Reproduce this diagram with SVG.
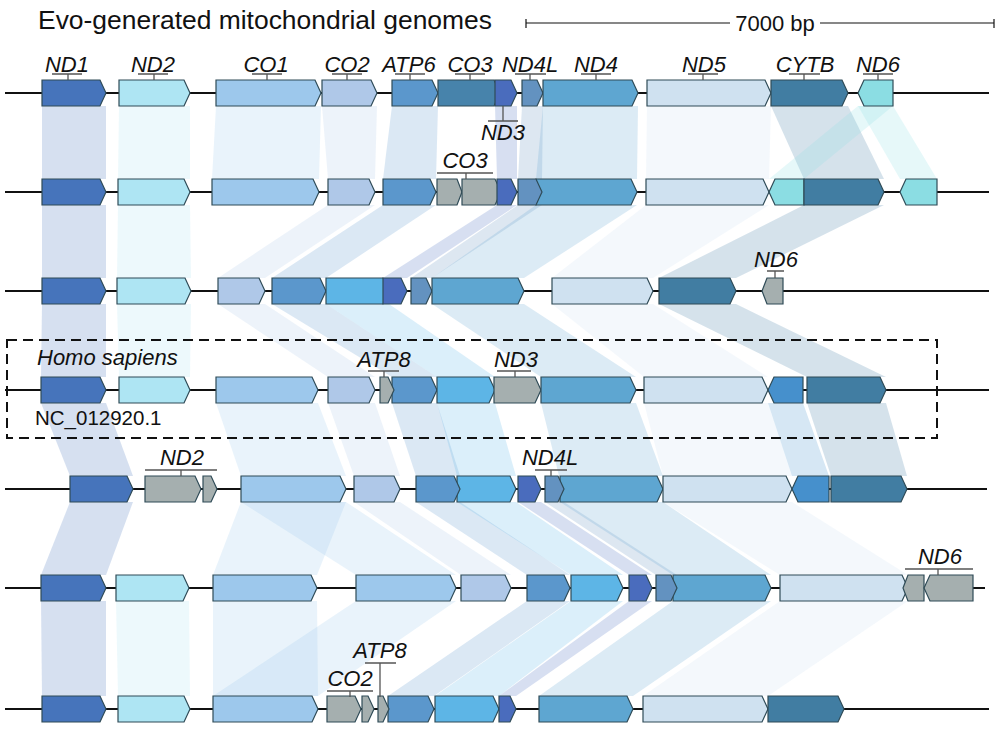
<svg xmlns="http://www.w3.org/2000/svg" width="1000" height="747" viewBox="0 0 1000 747">
<style>
text{font-family:"Liberation Sans",Arial,sans-serif;fill:#111}
.lab{font-size:22px;font-style:italic;text-anchor:middle}
.gene polygon{stroke:#2f4b57;stroke-width:1.2}
.band polygon{fill-opacity:0.22;stroke:none}
.bb{stroke:#555;stroke-width:1.3;fill:none}
.ln{stroke:#111;stroke-width:2}
.nd1{fill:#4674bb}.nd2{fill:#aee5f3}.co1{fill:#9dc8ec}.co2{fill:#afc8e8}.atp6{fill:#5b97cc}
.co3t{fill:#4783ab}.co3{fill:#5db5e6}.nd3{fill:#4a6cbd}.nd4l{fill:#6392c0}.nd4{fill:#5ea6d1}
.nd5{fill:#cfe1f0}.cytb{fill:#417da2}.nd6c{fill:#8bdde3}.nd6b{fill:#4690cc}.gray{fill:#a5afaf}
</style>
<g id="connectors" class="band">
<polygon class="nd1" points="42,106 106,106 106,179 42,179"/>
<polygon class="nd2" points="119,106 190,106 190,179 118,179"/>
<polygon class="co1" points="216,106 321,106 319,179 212,179"/>
<polygon class="co2" points="322,106 377,106 375,179 328,179"/>
<polygon class="atp6" points="392,106 438,106 436,179 383,179"/>
<polygon class="nd3" points="495,106 517,106 517,179 497,179"/>
<polygon class="nd4l" points="522,106 543,106 542,179 518,179"/>
<polygon class="nd4" points="543,106 638,106 637,179 536,179"/>
<polygon class="nd5" points="647,106 771,106 769,179 646,179"/>
<polygon class="cytb" points="771,106 848,106 884,179 804,179"/>
<polygon class="nd6c" points="858,106 893,106 804,179 769,179"/>
<polygon class="nd6c" points="858,106 893,106 937,179 900,179"/>
<polygon class="nd1" points="42,205 106,205 106,278 42,278"/>
<polygon class="nd2" points="118,205 190,205 191,278 117,278"/>
<polygon class="co2" points="328,205 375,205 265,278 218,278"/>
<polygon class="atp6" points="383,205 436,205 326,278 272,278"/>
<polygon class="nd3" points="497,205 517,205 407,278 383,278"/>
<polygon class="nd4l" points="518,205 542,205 432,278 411,278"/>
<polygon class="nd4" points="536,205 637,205 524,278 432,278"/>
<polygon class="nd5" points="646,205 769,205 653,278 552,278"/>
<polygon class="cytb" points="804,205 884,205 736,278 659,278"/>
<polygon class="nd1" points="42,304 106,304 106,377 41,377"/>
<polygon class="nd2" points="117,304 191,304 190,377 119,377"/>
<polygon class="co2" points="218,304 265,304 375,377 328,377"/>
<polygon class="atp6" points="272,304 326,304 437,377 392,377"/>
<polygon class="co3" points="326,304 389,304 495,377 437,377"/>
<polygon class="nd4" points="432,304 524,304 636,377 541,377"/>
<polygon class="nd5" points="552,304 653,304 768,377 644,377"/>
<polygon class="cytb" points="659,304 736,304 886,377 807,377"/>
<polygon class="nd1" points="41,403 106,403 133,476 70,476"/>
<polygon class="co1" points="216,403 318,403 346,476 241,476"/>
<polygon class="co2" points="328,403 375,403 400,476 354,476"/>
<polygon class="atp6" points="392,403 437,403 460,476 416,476"/>
<polygon class="co3" points="437,403 495,403 516,476 457,476"/>
<polygon class="nd4" points="541,403 636,403 663,476 559,476"/>
<polygon class="nd5" points="644,403 768,403 792,476 663,476"/>
<polygon class="nd6b" points="768,403 803,403 829,476 792,476"/>
<polygon class="cytb" points="807,403 886,403 907,476 831,476"/>
<polygon class="nd1" points="70,502 133,502 106,575 41,575"/>
<polygon class="co1" points="241,502 346,502 317,575 213,575"/>
<polygon class="co1" points="241,502 346,502 456,575 356,575"/>
<polygon class="co2" points="354,502 400,502 511,575 461,575"/>
<polygon class="atp6" points="416,502 460,502 570,575 527,575"/>
<polygon class="co3" points="457,502 516,502 623,575 571,575"/>
<polygon class="nd3" points="518,502 541,502 652,575 629,575"/>
<polygon class="nd4l" points="545,502 564,502 677,575 656,575"/>
<polygon class="nd4" points="560,502 663,502 771,575 673,575"/>
<polygon class="nd5" points="663,502 792,502 908,575 780,575"/>
<polygon class="nd1" points="41,601 106,601 106,696 42,696"/>
<polygon class="nd2" points="116,601 189,601 190,696 118,696"/>
<polygon class="co1" points="213,601 317,601 318,696 213,696"/>
<polygon class="co1" points="356,601 456,601 318,696 213,696"/>
<polygon class="atp6" points="527,601 570,601 434,696 388,696"/>
<polygon class="co3" points="571,601 623,601 499,696 435,696"/>
<polygon class="nd3" points="629,601 652,601 516,696 499,696"/>
<polygon class="nd4" points="673,601 771,601 633,696 539,696"/>
<polygon class="nd5" points="780,601 908,601 768,696 643,696"/>
</g>
<g id="title">
<text x="38" y="29" font-size="26" textLength="454" lengthAdjust="spacingAndGlyphs">Evo-generated mitochondrial genomes</text>
<line class="ln" x1="526" y1="23" x2="730" y2="23" style="stroke-width:1.2"/>
<line class="ln" x1="820" y1="23" x2="994" y2="23" style="stroke-width:1.2"/>
<line class="ln" x1="526" y1="19" x2="526" y2="28" style="stroke-width:1.2"/>
<line class="ln" x1="994" y1="19" x2="994" y2="28" style="stroke-width:1.2"/>
<text x="775" y="31" font-size="22" text-anchor="middle">7000 bp</text>
</g>
<g id="backbones">
<line class="ln" x1="5" y1="93" x2="989" y2="93"/>
<line class="ln" x1="5" y1="192" x2="989" y2="192"/>
<line class="ln" x1="5" y1="291" x2="989" y2="291"/>
<line class="ln" x1="5" y1="390" x2="989" y2="390"/>
<line class="ln" x1="5" y1="489" x2="987" y2="489"/>
<line class="ln" x1="5" y1="588" x2="985" y2="588"/>
<line class="ln" x1="5" y1="709" x2="989" y2="709"/>
</g>
<g id="row1" class="gene">
<polygon class="nd1" points="42,80 100,80 106,93 100,106 42,106"/>
<polygon class="nd2" points="119,80 184,80 190,93 184,106 119,106"/>
<polygon class="co1" points="216,80 315,80 321,93 315,106 216,106"/>
<polygon class="co2" points="322,80 371,80 377,93 371,106 322,106"/>
<polygon class="atp6" points="392,80 432,80 438,93 432,106 392,106"/>
<polygon class="co3t" points="438,80 494,80 500,93 494,106 438,106"/>
<polygon class="nd3" points="495,80 511,80 517,93 511,106 495,106"/>
<polygon class="nd4l" points="522,80 537,80 543,93 537,106 522,106"/>
<polygon class="nd4" points="543,80 632,80 638,93 632,106 543,106"/>
<polygon class="nd5" points="647,80 765,80 771,93 765,106 647,106"/>
<polygon class="cytb" points="771,80 842,80 848,93 842,106 771,106"/>
<polygon class="nd6c" points="858,93 864,80 893,80 893,106 864,106"/>
</g>
<g id="row2" class="gene">
<polygon class="nd1" points="42,179 100,179 106,192 100,205 42,205"/>
<polygon class="nd2" points="118,179 184,179 190,192 184,205 118,205"/>
<polygon class="co1" points="212,179 313,179 319,192 313,205 212,205"/>
<polygon class="co2" points="328,179 369,179 375,192 369,205 328,205"/>
<polygon class="atp6" points="383,179 430,179 436,192 430,205 383,205"/>
<polygon class="gray" points="437,179 457,179 462,192 457,205 437,205"/>
<polygon class="gray" points="462,179 495,179 501,192 495,205 462,205"/>
<polygon class="nd3" points="497,179 511,179 517,192 511,205 497,205"/>
<polygon class="nd4" points="536,179 631,179 637,192 631,205 536,205"/>
<polygon class="nd4l" points="518,179 536,179 542,192 536,205 518,205"/>
<polygon class="nd5" points="646,179 763,179 769,192 763,205 646,205"/>
<polygon class="nd6c" points="769,192 775,179 804,179 804,205 775,205"/>
<polygon class="cytb" points="804,179 878,179 884,192 878,205 804,205"/>
<polygon class="nd6c" points="900,192 906,179 937,179 937,205 906,205"/>
</g>
<g id="row3" class="gene">
<polygon class="nd1" points="42,278 100,278 106,291 100,304 42,304"/>
<polygon class="nd2" points="117,278 185,278 191,291 185,304 117,304"/>
<polygon class="co2" points="218,278 259,278 265,291 259,304 218,304"/>
<polygon class="atp6" points="272,278 320,278 326,291 320,304 272,304"/>
<polygon class="co3" points="326,278 383,278 389,291 383,304 326,304"/>
<polygon class="nd3" points="383,278 401,278 407,291 401,304 383,304"/>
<polygon class="nd4l" points="411,278 426,278 432,291 426,304 411,304"/>
<polygon class="nd4" points="432,278 518,278 524,291 518,304 432,304"/>
<polygon class="nd5" points="552,278 647,278 653,291 647,304 552,304"/>
<polygon class="cytb" points="659,278 730,278 736,291 730,304 659,304"/>
<polygon class="gray" points="762,291 767,278 783,278 783,304 767,304"/>
</g>
<g id="row4" class="gene">
<polygon class="nd1" points="41,377 100,377 106,390 100,403 41,403"/>
<polygon class="nd2" points="119,377 184,377 190,390 184,403 119,403"/>
<polygon class="co1" points="216,377 312,377 318,390 312,403 216,403"/>
<polygon class="co2" points="328,377 369,377 375,390 369,403 328,403"/>
<polygon class="atp6" points="392,377 431,377 437,390 431,403 392,403"/>
<polygon class="gray" points="380,377 388,377 394,390 388,403 380,403"/>
<polygon class="co3" points="437,377 489,377 495,390 489,403 437,403"/>
<polygon class="gray" points="494,377 535,377 541,390 535,403 494,403"/>
<polygon class="nd4" points="541,377 630,377 636,390 630,403 541,403"/>
<polygon class="nd5" points="644,377 762,377 768,390 762,403 644,403"/>
<polygon class="nd6b" points="768,390 774,377 803,377 803,403 774,403"/>
<polygon class="cytb" points="807,377 880,377 886,390 880,403 807,403"/>
</g>
<g id="row5" class="gene">
<polygon class="nd1" points="70,476 127,476 133,489 127,502 70,502"/>
<polygon class="gray" points="145,476 195,476 201,489 195,502 145,502"/>
<polygon class="gray" points="203,476 211,476 217,489 211,502 203,502"/>
<polygon class="co1" points="241,476 340,476 346,489 340,502 241,502"/>
<polygon class="co2" points="354,476 394,476 400,489 394,502 354,502"/>
<polygon class="co3" points="457,476 510,476 516,489 510,502 457,502"/>
<polygon class="atp6" points="416,476 454,476 460,489 454,502 416,502"/>
<polygon class="nd3" points="518,476 535,476 541,489 535,502 518,502"/>
<polygon class="nd4" points="560,476 657,476 663,489 657,502 560,502"/>
<polygon class="nd4l" points="545,476 558,476 564,489 558,502 545,502"/>
<polygon class="nd5" points="663,476 786,476 792,489 786,502 663,502"/>
<polygon class="nd6b" points="792,489 798,476 829,476 829,502 798,502"/>
<polygon class="cytb" points="831,476 901,476 907,489 901,502 831,502"/>
</g>
<g id="row6" class="gene">
<polygon class="nd1" points="41,575 100,575 106,588 100,601 41,601"/>
<polygon class="nd2" points="116,575 183,575 189,588 183,601 116,601"/>
<polygon class="co1" points="213,575 311,575 317,588 311,601 213,601"/>
<polygon class="co1" points="356,575 450,575 456,588 450,601 356,601"/>
<polygon class="co2" points="461,575 505,575 511,588 505,601 461,601"/>
<polygon class="atp6" points="527,575 564,575 570,588 564,601 527,601"/>
<polygon class="co3" points="571,575 617,575 623,588 617,601 571,601"/>
<polygon class="nd3" points="629,575 646,575 652,588 646,601 629,601"/>
<polygon class="nd4" points="673,575 765,575 771,588 765,601 673,601"/>
<polygon class="nd4l" points="656,575 671,575 677,588 671,601 656,601"/>
<polygon class="nd5" points="780,575 902,575 908,588 902,601 780,601"/>
<polygon class="gray" points="903,588 908,575 924,575 924,601 908,601"/>
<polygon class="gray" points="924,588 930,575 973,575 973,601 930,601"/>
</g>
<g id="row7" class="gene">
<polygon class="nd1" points="42,696 100,696 106,709 100,722 42,722"/>
<polygon class="nd2" points="118,696 184,696 190,709 184,722 118,722"/>
<polygon class="co1" points="213,696 312,696 318,709 312,722 213,722"/>
<polygon class="gray" points="327,696 355,696 361,709 355,722 327,722"/>
<polygon class="gray" points="362,696 368,696 374,709 368,722 362,722"/>
<polygon class="atp6" points="388,696 428,696 434,709 428,722 388,722"/>
<polygon class="gray" points="378,696 383,696 389,709 383,722 378,722"/>
<polygon class="co3" points="435,696 493,696 499,709 493,722 435,722"/>
<polygon class="nd3" points="499,696 510,696 516,709 510,722 499,722"/>
<polygon class="nd4" points="539,696 627,696 633,709 627,722 539,722"/>
<polygon class="nd5" points="643,696 762,696 768,709 762,722 643,722"/>
<polygon class="cytb" points="768,696 838,696 844,709 838,722 768,722"/>
</g>
<g id="labels">
<path class="bb" d="M52,74H82M68,74V80 M138,74H168M154,74V80 M252,74H282M267,74V80 M332,74H362M347,74V80 M395,74H425M410,74V80 M455,74H485M470,74V80 M515,74H546M530,74V80 M581,74H611M596,74V80 M688,74H718M703,74V80 M789,74H820M804,74V80 M863,74H893M878,74V80"/>
<text class="lab" x="67" y="72">ND1</text>
<text class="lab" x="153" y="72">ND2</text>
<text class="lab" x="266" y="72">CO1</text>
<text class="lab" x="347" y="72">CO2</text>
<text class="lab" x="409" y="72">ATP6</text>
<text class="lab" x="470" y="72">CO3</text>
<text class="lab" x="530" y="72">ND4L</text>
<text class="lab" x="596" y="72">ND4</text>
<text class="lab" x="704" y="72">ND5</text>
<text class="lab" x="805" y="72">CYTB</text>
<text class="lab" x="878" y="72">ND6</text>
<path class="bb" d="M488,121H518M503,106V121"/>
<text class="lab" x="503" y="140">ND3</text>
<path class="bb" d="M437,173H493M466,173V179"/>
<text class="lab" x="465" y="168">CO3</text>
<path class="bb" d="M767,271H784M775,271V278"/>
<text class="lab" x="776" y="267">ND6</text>
<path class="bb" d="M368,371H399M384,371V377 M497,371H531M515,371V377"/>
<text class="lab" x="384" y="367">ATP8</text>
<text class="lab" x="516" y="367">ND3</text>
<path class="bb" d="M145,470H217M181,470V476 M535,470H567M551,470V476"/>
<text class="lab" x="182" y="465">ND2</text>
<text class="lab" x="550" y="465">ND4L</text>
<path class="bb" d="M905,569H973M938,569V575"/>
<text class="lab" x="940" y="564">ND6</text>
<path class="bb" d="M327,691H373M350,691V697 M365,663H396M380,663V697"/>
<text class="lab" x="350" y="686">CO2</text>
<text class="lab" x="380" y="658">ATP8</text>
</g>
<g id="homo-sapiens">
<rect x="7" y="340" width="930" height="98" fill="none" stroke="#111" stroke-width="2" stroke-dasharray="10 6"/>
<text x="37" y="365" font-size="22" font-style="italic">Homo sapiens</text>
<text x="35" y="425" font-size="20.5">NC_012920.1</text>
</g>
</svg>
